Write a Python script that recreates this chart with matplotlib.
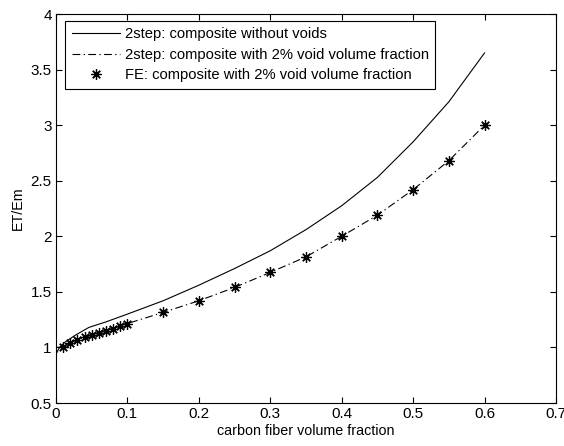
import numpy as np
import matplotlib
matplotlib.use("Agg")
import matplotlib.pyplot as plt

plt.rcParams['font.family'] = ['Liberation Sans', 'DejaVu Sans']

# two-step model, composite without voids
vf_nv = [0.0, 0.005, 0.013, 0.027, 0.046, 0.07, 0.1, 0.15, 0.2, 0.25, 0.3, 0.35, 0.4, 0.45, 0.5, 0.55, 0.6]
et_nv = [0.94, 1.00, 1.05, 1.11, 1.18, 1.23, 1.30, 1.42, 1.56, 1.71, 1.87, 2.06, 2.275, 2.53, 2.85, 3.21, 3.65]

# FE results, 2% voids
vf_fe = [0.01, 0.02, 0.03, 0.04, 0.05, 0.06, 0.07, 0.08, 0.09, 0.1,
         0.15, 0.2, 0.25, 0.3, 0.35, 0.4, 0.45, 0.5, 0.55, 0.6]
et_fe = [1.00, 1.04, 1.07, 1.09, 1.11, 1.13, 1.15, 1.17, 1.19, 1.215,
         1.315, 1.42, 1.54, 1.675, 1.815, 2.00, 2.19, 2.42, 2.68, 3.00]

# two-step model, 2% voids
vf_v = [0.0] + vf_fe
et_v = [1.00] + et_fe

fig = plt.figure(figsize=(5.64, 4.46), dpi=100)
ax = fig.add_axes([0.0993, 0.0964, 0.8865, 0.8722])

ax.plot(vf_nv, et_nv, '-', color='black', lw=0.8,
        label='2step: composite without voids')
ax.plot(vf_v, et_v, color='black', lw=0.8, dashes=(7, 3, 1.2, 3),
        label='2step: composite with 2% void volume fraction')
ax.plot(vf_fe, et_fe, ls='none', marker=(8, 2, 0), ms=7.5, mew=0.9,
        color='black', label='FE: composite with 2% void volume fraction')

ax.set_xlim(0, 0.7)
ax.set_ylim(0.5, 4)
ax.set_xticks(np.arange(0, 0.71, 0.1))
ax.set_xticklabels(['0', '0.1', '0.2', '0.3', '0.4', '0.5', '0.6', '0.7'])
ax.set_yticks(np.arange(0.5, 4.01, 0.5))
ax.set_yticklabels(['0.5', '1', '1.5', '2', '2.5', '3', '3.5', '4'])
ax.tick_params(direction='in', top=True, right=True, labelsize=11, length=4, width=0.8, pad=3)
for s in ax.spines.values():
    s.set_linewidth(0.8)

ax.set_xlabel('carbon fiber volume fraction', fontsize=10.3, labelpad=2)
ax.set_ylabel('ET/Em', fontsize=10.3, labelpad=4)

leg = ax.legend(loc='upper left', bbox_to_anchor=(0.018, 0.983), fontsize=10.6,
                fancybox=False, framealpha=1, edgecolor='black',
                handlelength=3.3, handletextpad=0.3, borderpad=0.45,
                labelspacing=0.45, borderaxespad=0)
leg.get_frame().set_linewidth(0.8)

fig.savefig('out.png', dpi=100)
